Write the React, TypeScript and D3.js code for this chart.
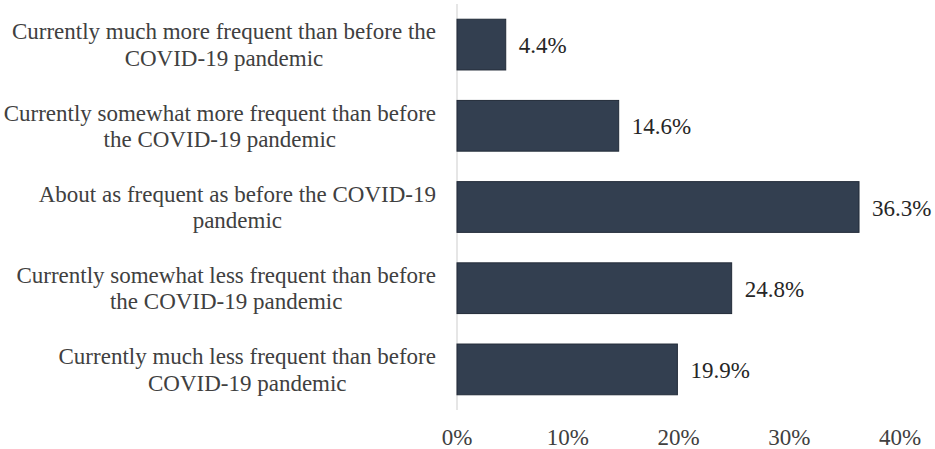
import React, { useEffect, useRef } from 'react';
import * as d3 from 'd3';

// Survey answer categories, top to bottom ("\n" marks the line break in the label)
const categories = [
  'Currently much more frequent than before the\nCOVID-19 pandemic',
  'Currently somewhat more frequent than before\nthe COVID-19 pandemic',
  'About as frequent as before the COVID-19\npandemic',
  'Currently somewhat less frequent than before\nthe COVID-19 pandemic',
  'Currently much less frequent than before\nCOVID-19 pandemic',
];
const shares = [4.4, 14.6, 36.3, 24.8, 19.9];
const xTicks = [0, 10, 20, 30, 40];

const App: React.FC = () => {
  const svgRef = useRef<SVGSVGElement>(null);

  useEffect(() => {
    if (!svgRef.current) return;
    const svg = d3.select(svgRef.current);
    svg.selectAll('*').remove();

    const width = 935;
    const height = 449;
    const x0 = 457;
    const font = '"Liberation Serif", "Times New Roman", serif';
    const fs = 23;

    const x = d3.scaleLinear().domain([0, 40]).range([x0, 900]);
    const y = d3.scaleBand<number>()
      .domain(d3.range(categories.length))
      .range([4, 410])
      .paddingInner(0.375)
      .paddingOuter(0.1875);

    svg.attr('width', width).attr('height', height);

    // vertical axis line
    svg.append('line')
      .attr('x1', x0).attr('x2', x0)
      .attr('y1', 4).attr('y2', 410)
      .attr('stroke', '#d9d9d9')
      .attr('stroke-width', 1.3);

    // bars
    svg.selectAll('.bar')
      .data(shares)
      .enter()
      .append('rect')
      .attr('class', 'bar')
      .attr('x', x(0))
      .attr('y', (_, i) => y(i)!)
      .attr('width', d => x(d) - x(0))
      .attr('height', y.bandwidth())
      .attr('fill', '#333f50')
      .attr('stroke', '#222b38')
      .attr('stroke-width', 1);

    // value labels
    svg.selectAll('.val')
      .data(shares)
      .enter()
      .append('text')
      .attr('class', 'val')
      .attr('x', d => x(d) + 13)
      .attr('y', (_, i) => y(i)! + y.bandwidth() / 2 + 8.5)
      .attr('font-family', font)
      .attr('font-size', fs)
      .attr('fill', '#262626')
      .text(d => `${d.toFixed(1)}%`);

    // category labels: block right-aligned, lines centred inside it
    categories.forEach((cat, i) => {
      const lines = cat.split('\n');
      const cy = y(i)! + y.bandwidth() / 2;
      const g = svg.append('g');
      const texts = lines.map((ln, j) =>
        g.append('text')
          .attr('y', cy + (j - (lines.length - 1) / 2) * 26.5 + 8)
          .attr('text-anchor', 'middle')
          .attr('font-family', font)
          .attr('font-size', fs)
          .attr('fill', '#404040')
          .text(ln)
      );
      const maxW = d3.max(texts, t => (t.node() as SVGTextElement).getComputedTextLength()) || 0;
      texts.forEach(t => t.attr('x', 436 - maxW / 2));
    });

    // x tick labels
    svg.selectAll('.tick')
      .data(xTicks)
      .enter()
      .append('text')
      .attr('class', 'tick')
      .attr('x', d => x(d))
      .attr('y', 445)
      .attr('text-anchor', 'middle')
      .attr('font-family', font)
      .attr('font-size', fs)
      .attr('fill', '#404040')
      .text(d => `${d}%`);
  }, []);

  return (
    <svg
      ref={svgRef}
      style={{ position: 'absolute', left: 0, top: 0, background: '#fff' }}
    />
  );
};

export default App;
